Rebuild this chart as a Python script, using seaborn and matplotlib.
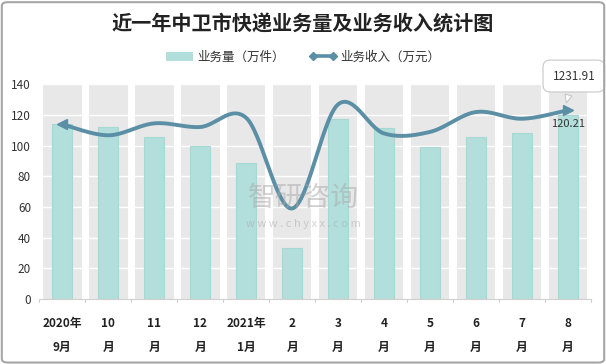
import numpy as np
import pandas as pd
import matplotlib
matplotlib.use("Agg")
import matplotlib.pyplot as plt
from matplotlib.lines import Line2D
from matplotlib.patches import Patch, FancyBboxPatch
import seaborn as sns

# =====================================================================
# Données
# =====================================================================
mois = ["2020年\n9月", "10\n月", "11\n月", "12\n月", "2021年\n1月", "2\n月",
        "3\n月", "4\n月", "5\n月", "6\n月", "7\n月", "8\n月"]
volume = [114.0, 112.3, 105.8, 99.9, 88.5, 33.5, 117.3, 111.4, 99.3, 105.8, 108.0, 120.21]
revenu = [1140, 1068, 1146, 1122, 1182, 590, 1270, 1080, 1090, 1220, 1176, 1231.91]

titre = "近一年中卫市快递业务量及业务收入统计图"
label_volume = "业务量（万件）"
label_revenu = "业务收入（万元）"

bar_color = "#b2dfdb"
line_color = "#5b8fa6"
band_color = "#e8e8e8"

sns.set_style("white")
plt.rcParams["font.family"] = ["Noto Sans CJK SC", "DejaVu Sans"]

df = pd.DataFrame({"mois": mois, "volume": volume, "revenu": revenu})
x = np.arange(len(df))

fig = plt.figure(figsize=(6.06, 3.64), dpi=100)
ax = fig.add_axes([0.065, 0.179, 0.91, 0.589])

# bandes grises par catégorie + grille blanche
for i in x:
    ax.axvspan(i - 0.42, i + 0.42, ymin=0, ymax=1, color=band_color, zorder=0, lw=0)
for yv in range(20, 141, 20):
    ax.axhline(yv, color="white", lw=1.0, zorder=0.5)

sns.barplot(data=df, x="mois", y="volume", color=bar_color, width=0.43,
            saturation=1, ax=ax, zorder=1, edgecolor="#a6d9d3", linewidth=0.8)

ax.set_ylim(0, 140)
ax.set_xlim(-0.5, len(df) - 0.5)
ax.set_yticks(range(0, 141, 20))
ax.tick_params(axis="y", length=0, labelsize=8.5, colors="#333333", pad=6)
ax.set_xticks(x)
ax.set_xticklabels(mois, fontsize=8.5, fontweight="bold", linespacing=2.15, color="#222222")
ax.tick_params(axis="x", length=0, pad=13)
ax.set_xlabel("")
ax.set_ylabel("")
for s in ["top", "right", "left"]:
    ax.spines[s].set_visible(False)
ax.spines["bottom"].set_color("#d0d0d0")
# petites graduations aux limites des catégories
for b in np.arange(-0.5, len(df), 1.0):
    ax.plot([b, b], [0, -2.2], color="#d0d0d0", lw=0.8, clip_on=False, zorder=3)

# courbe lissée (spline de type Excel) sur axe secondaire masqué
ax2 = ax.twinx()
ax2.set_ylim(0, 1400)
ax2.set_yticks([])
for s in ax2.spines.values():
    s.set_visible(False)

P = np.column_stack([x.astype(float), np.array(revenu, dtype=float)])
Pp = np.vstack([P[0], P, P[-1]])
xs, ys = [], []
t = np.linspace(0, 1, 30)
for i in range(len(P) - 1):
    p0, p1, p2, p3 = Pp[i], Pp[i + 1], Pp[i + 2], Pp[i + 3]
    c1 = p1 + (p2 - p0) / 6
    c2 = p2 - (p3 - p1) / 6
    seg = ((1 - t) ** 3)[:, None] * p1 + (3 * (1 - t) ** 2 * t)[:, None] * c1 \
        + (3 * (1 - t) * t ** 2)[:, None] * c2 + (t ** 3)[:, None] * p2
    xs.extend(seg[:, 0])
    ys.extend(seg[:, 1])
sns.lineplot(x=xs, y=ys, sort=False, color=line_color, lw=2.8, ax=ax2, zorder=4)
ax2.plot(x[0], revenu[0], marker="<", ms=7, color=line_color, zorder=5)
ax2.plot(x[-1], revenu[-1], marker=">", ms=7, color=line_color, zorder=5)

# annotations du dernier point
ax.text(x[-1], volume[-1] - 2.5, f"{volume[-1]:.2f}", ha="center", va="top",
        fontsize=8, color="#333333", zorder=6)
ax2.annotate(f"{revenu[-1]:.2f}", xy=(x[-1] - 0.05, revenu[-1] + 30), xytext=(x[-1] + 0.13, 1455),
             ha="center", va="center", fontsize=8.5, color="#333333", zorder=7,
             annotation_clip=False,
             bbox=dict(boxstyle="round,pad=0.8,rounding_size=0.6", fc="white", ec="#c8c8c8", lw=0.8),
             arrowprops=dict(arrowstyle="wedge,tail_width=0.6", fc="white", ec="#c8c8c8", lw=0.8))

# filigrane
fig.text(0.5, 0.455, "智研咨询", fontsize=20, color="#a8a8a8", alpha=0.5, ha="center", va="center")
fig.text(0.5, 0.385, "w w w . c h y x x . c o m", fontsize=8, color="#a8a8a8", alpha=0.5,
         ha="center", va="center")

# titre et légende
fig.text(0.5, 0.935, titre, fontsize=14.5, fontweight="bold", color="#222222", ha="center", va="center")
handles = [Patch(facecolor=bar_color, edgecolor="none"),
           Line2D([0], [0], color=line_color, lw=2.6, marker="D", ms=4)]
fig.legend(handles, [label_volume, label_revenu], loc="center", bbox_to_anchor=(0.5, 0.843),
           ncol=2, frameon=False, fontsize=9, handlelength=2.2, handletextpad=0.3,
           columnspacing=2.0, numpoints=2, labelcolor="#333333")

# cadre de la figure
fig.patches.append(FancyBboxPatch((0.003, 0.004), 0.994, 0.99, boxstyle="round,pad=0,rounding_size=0.01",
                                  transform=fig.transFigure, fc="none", ec="#a6a6a6", lw=1.5))

fig.savefig("out.png", dpi=100)
